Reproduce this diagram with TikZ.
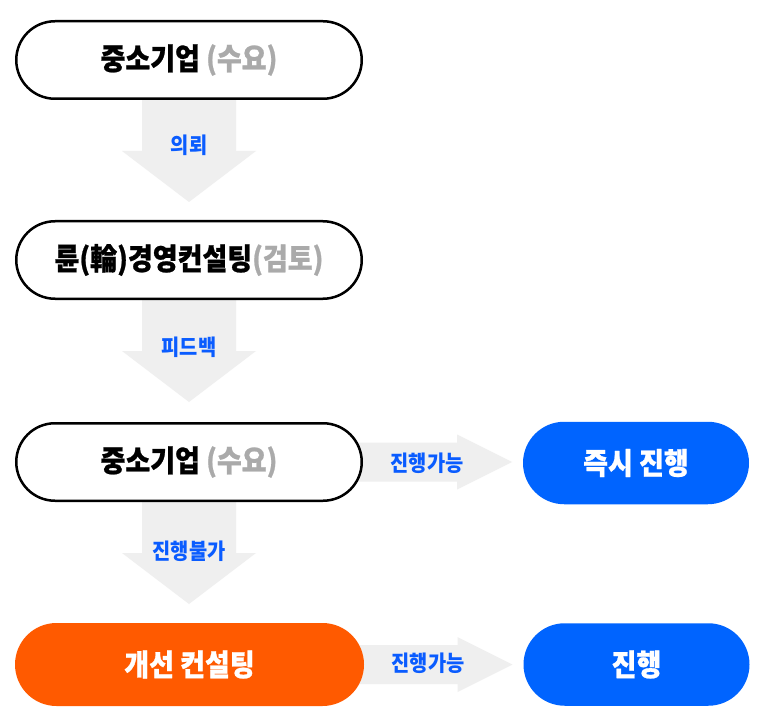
\documentclass[tikz,border=0pt]{standalone}
\usepackage{fontspec}
\setmainfont{Noto Sans CJK KR}[FakeStretch=0.9]
\newfontfamily\heavy{Noto Sans CJK KR Black}[FakeStretch=0.9, FakeBold=0.8]
\usetikzlibrary{calc}
\definecolor{bblue}{HTML}{0064FF}
\definecolor{borange}{HTML}{FF5A00}
\definecolor{agray}{HTML}{EFEFEF}
\definecolor{tgray}{HTML}{AAAAAA}
\definecolor{lblue}{HTML}{0A5CFF}
\pgfdeclarelayer{bg}
\pgfsetlayers{bg,main}
\newcommand\dnarrow[1]{%
  \fill[agray] ($(#1.center)+(-47,0)$) -- ($(#1.center)+(-47,91)$) -- ($(#1.center)+(-67,91)$)
    -- ($(#1.center)+(0,142)$) -- ($(#1.center)+(67,91)$) -- ($(#1.center)+(47,91)$)
    -- ($(#1.center)+(47,0)$) -- cycle;}
\newcommand\rtarrow[1]{%
  \fill[agray] ($(#1.center)+(0,-19.5)$) -- ($(#1.center)+(268,-19.5)$) -- ($(#1.center)+(268,-27.5)$)
    -- ($(#1.center)+(323,0)$) -- ($(#1.center)+(268,27.5)$) -- ($(#1.center)+(268,19.5)$)
    -- ($(#1.center)+(0,19.5)$) -- cycle;}
\begin{document}
\begin{tikzpicture}[x=1pt,y=-1pt,
  pill/.style={rounded corners=40pt, minimum width=348pt, minimum height=80pt, inner sep=0pt,
    font=\fontsize{30}{34}\heavy},
  wpill/.style={pill, draw=black, line width=2.5pt, fill=white, minimum width=345.5pt,
    minimum height=77.5pt, rounded corners=38.75pt},
  bpill/.style={pill, fill=bblue, text=white, minimum width=226pt, minimum height=82.5pt,
    rounded corners=41.25pt},
  opill/.style={pill, fill=borange, text=white, minimum width=349pt, minimum height=83pt,
    rounded corners=41.5pt},
  lbl/.style={inner sep=0pt, text=lblue, font=\fontsize{22}{25}\selectfont\bfseries}]
\useasboundingbox (0,0) rectangle (763,722);
\node[wpill] (b1) at (189,60) {중소기업 \textcolor{tgray}{(수요)}};
\node[wpill] (b2) at (189,260) {륜(輪)경영컨설팅\textcolor{tgray}{(검토)}};
\node[wpill] (b3) at (189,462) {중소기업 \textcolor{tgray}{(수요)}};
\node[bpill] (g1) at (636,463) {즉시 진행};
\node[opill] (o1) at (189.5,664.5) {개선 컨설팅};
\node[bpill] (g2) at (636.5,664.5) {진행};
\begin{pgfonlayer}{bg}
\fill[white] (0,0) rectangle (763,722);
\dnarrow{b1}
\dnarrow{b2}
\dnarrow{b3}
\rtarrow{b3}
\rtarrow{o1}
\end{pgfonlayer}
\node[lbl] (l1) at (189,145) {의뢰};
\node[lbl] (l2) at (189,347) {피드백};
\node[lbl] (l3) at (189,551) {진행불가};
\node[lbl] (l4) at (427,463) {진행가능};
\node[lbl] (l5) at (428,663) {진행가능};
\end{tikzpicture}
\end{document}
